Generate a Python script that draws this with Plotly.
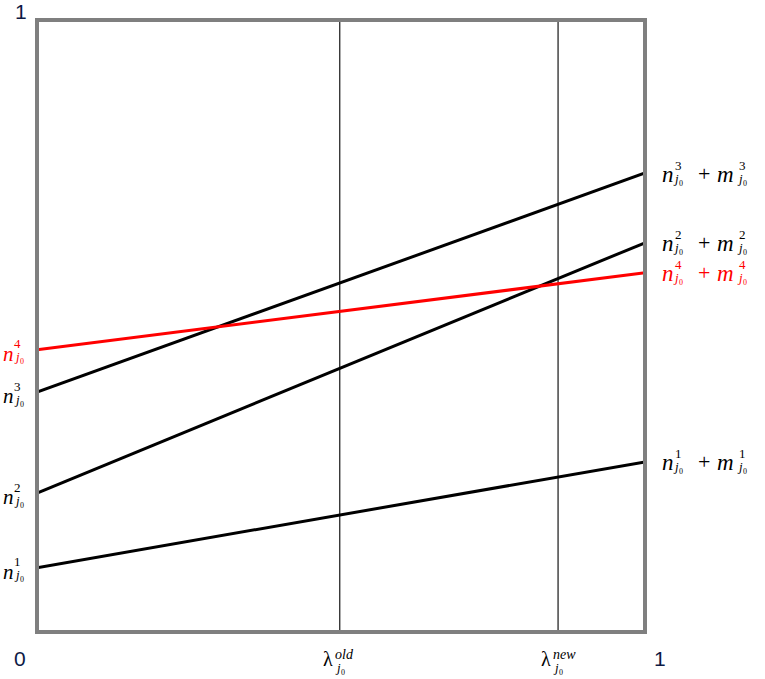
import plotly.graph_objects as go

# ---- data ----
x_ends = [0, 1]
series_names = ["1", "2", "3", "4"]
start_vals = [0.105, 0.227, 0.392, 0.461]
end_vals = [0.278, 0.636, 0.750, 0.587]
series_colors = ["black", "black", "black", "#ff0000"]
lambda_names = ["old", "new"]
lambda_vals = [0.498, 0.857]
corner_ticks = ["0", "1"]

fig = go.Figure()

for lv in lambda_vals:
    fig.add_trace(go.Scatter(x=[lv, lv], y=[0, 1], mode="lines",
                             line=dict(color="black", width=1.1), hoverinfo="skip"))

for name, s, e, c in zip(series_names, start_vals, end_vals, series_colors):
    fig.add_trace(go.Scatter(x=x_ends, y=[s, e], mode="lines",
                             line=dict(color=c, width=3), hoverinfo="skip"))

SERIF = "Liberation Serif"
ann = []


def piece(x, y, text, dx, dy, size, color, family=SERIF, xanchor="left"):
    ann.append(dict(x=x, y=y, xref="x", yref="y", text=text, showarrow=False,
                    xanchor=xanchor, yanchor="middle", xshift=dx, yshift=-dy,
                    borderpad=0, font=dict(family=family, size=size, color=color)))


SUB = "<i>j</i>₀"

for name, s, e, c in zip(series_names, start_vals, end_vals, series_colors):
    # left label n^k_{j0}
    piece(0, s, "<i>n</i>", -35, 4, 21, c)
    piece(0, s, name, -24, -6, 13, c)
    piece(0, s, SUB, -24, 7, 13, c)
    # right label n^k_{j0} + m^k_{j0}
    piece(1, e, "<i>n</i>", 16, 1, 23, c)
    piece(1, e, name, 29, -8, 13, c)
    piece(1, e, SUB, 27, 5, 13, c)
    piece(1, e, "+", 52, 0, 22, c)
    piece(1, e, "<i>m</i>", 71, 1, 23, c)
    piece(1, e, name, 93, -8, 13, c)
    piece(1, e, SUB, 91, 5, 13, c)

for nm, lv in zip(lambda_names, lambda_vals):
    piece(lv, 0, "λ", -18, 27, 20, "black")
    piece(lv, 0, f"<i>{nm}</i>", -6, 22, 14, "black")
    piece(lv, 0, SUB, -6, 35, 13, "black")

TICK = "#0d1a45"
SANS = "Liberation Sans"
piece(0, 1, corner_ticks[1], -16, -9, 21, TICK, SANS, "center")
piece(0, 0, corner_ticks[0], -17, 26, 21, TICK, SANS, "center")
piece(1, 0, corner_ticks[1], 15, 26, 21, TICK, SANS, "center")

fig.update_layout(
    width=765, height=679,
    margin=dict(l=37, r=120, t=20, b=47),
    plot_bgcolor="white", paper_bgcolor="white",
    showlegend=False,
    xaxis=dict(range=[0, 1], visible=False, fixedrange=True),
    yaxis=dict(range=[0, 1], visible=False, fixedrange=True),
    annotations=ann,
    shapes=[dict(type="rect", xref="paper", yref="paper", x0=0, y0=0, x1=1, y1=1,
                 line=dict(color="#7f7f7f", width=4), layer="above")],
)

fig.write_html("out.html",
               config={"displayModeBar": False},
               post_script="document.body.style.margin='0';"
                           "document.body.style.overflow='hidden';")
